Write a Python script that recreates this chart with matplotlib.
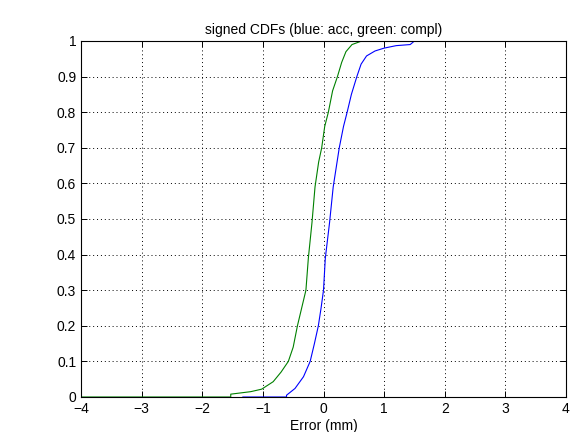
import matplotlib
matplotlib.use("Agg")
from matplotlib import pyplot as plt

green_x = [-4, -1.53, -1.53, -1.2, -1.02, -0.83, -0.7, -0.58, -0.5, -0.43, -0.36,
           -0.29, -0.25, -0.19, -0.14, -0.08, -0.03, 0.02, 0.08, 0.15, 0.23,
           0.3, 0.37, 0.47, 0.63, 1.5]
green_y = [0, 0, 0.008, 0.015, 0.022, 0.043, 0.07, 0.1, 0.14, 0.2, 0.25,
           0.3, 0.39, 0.49, 0.59, 0.66, 0.7, 0.76, 0.8, 0.86, 0.9,
           0.94, 0.97, 0.99, 1.0, 1.0]

blue_x = [-1.33, -0.61, -0.61, -0.47, -0.33, -0.22, -0.15, -0.085, -0.04, 0.0,
          0.03, 0.1, 0.16, 0.26, 0.33, 0.39, 0.46, 0.55, 0.62, 0.71, 0.85,
          1.0, 1.2, 1.43, 1.5, 2.03]
blue_y = [0, 0, 0.005, 0.024, 0.057, 0.1, 0.15, 0.2, 0.25, 0.3,
          0.39, 0.49, 0.59, 0.7, 0.76, 0.8, 0.85, 0.9, 0.935, 0.958, 0.972,
          0.98, 0.987, 0.99, 1.0, 1.0]

x_ticks = [-4, -3, -2, -1, 0, 1, 2, 3, 4]
x_labels = ["\u22124", "\u22123", "\u22122", "\u22121", "0", "1", "2", "3", "4"]
y_ticks = [0, 0.1, 0.2, 0.3, 0.4, 0.5, 0.6, 0.7, 0.8, 0.9, 1]
y_labels = ["0", "0.1", "0.2", "0.3", "0.4", "0.5", "0.6", "0.7", "0.8", "0.9", "1"]

plt.rcParams["font.family"] = ["Liberation Sans", "DejaVu Sans"]

fig = plt.figure(figsize=(5.76, 4.32), dpi=100)
ax = fig.add_axes([81 / 576, 35 / 432, 485 / 576, 356 / 432])

ax.plot(green_x, green_y, color="#008000", lw=0.8)
ax.plot(blue_x, blue_y, color="#0000ff", lw=0.8)

ax.set_xlim(-4, 4)
ax.set_ylim(0, 1)
ax.set_xticks(x_ticks, x_labels)
ax.set_yticks(y_ticks, y_labels)
ax.tick_params(direction="in", top=True, right=True, labelsize=10, length=4, width=0.7)
ax.grid(True, color="black", linestyle=(0, (1, 3)), lw=0.7)
for s in ax.spines.values():
    s.set_linewidth(0.8)

ax.set_xlabel("Error (mm)", fontsize=10, labelpad=2)
ax.set_title("signed CDFs (blue: acc, green: compl)", fontsize=10, pad=5)

fig.savefig("out.png", dpi=100)
